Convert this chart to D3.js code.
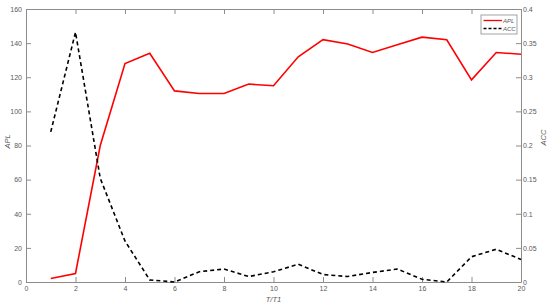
<!DOCTYPE html>
<html>
<head>
<meta charset="utf-8">
<script src="https://cdn.jsdelivr.net/npm/d3@7"></script>
<style>
  body { margin: 0; background: #fff; }
  text { font-family: "Liberation Sans", Arial, sans-serif; }
</style>
</head>
<body>
<div id="chart"></div>
<script>
// data
var tValues = [1, 2, 3, 4, 5, 6, 7, 8, 9, 10, 11, 12, 13, 14, 15, 16, 17, 18, 19, 20];
var aplValues = [2, 5, 80, 128, 134, 112, 110.5, 110.5, 116, 115, 132, 142, 139.5, 134.5, 139, 143.5, 142, 118.5, 134.5, 133.5];
var accValues = [0.22, 0.366, 0.152, 0.06, 0.003, 0.0, 0.015, 0.019, 0.008, 0.015, 0.026, 0.011, 0.008, 0.014, 0.019, 0.004, 0.0, 0.037, 0.048, 0.033];
var xTicks = [0, 2, 4, 6, 8, 10, 12, 14, 16, 18, 20];
var leftTicks = [0, 20, 40, 60, 80, 100, 120, 140, 160];
var rightTicks = [0, 0.05, 0.1, 0.15, 0.2, 0.25, 0.3, 0.35, 0.4];

var margin = { top: 9, right: 29, bottom: 25, left: 26 },
  width = 550 - margin.left - margin.right,
  height = 307 - margin.top - margin.bottom;

var svg = d3
  .select("#chart")
  .append("svg")
  .attr("width", 550)
  .attr("height", 307)
  .append("g")
  .attr("transform", "translate(" + margin.left + "," + margin.top + ")");

var x = d3.scaleLinear().domain([0, 20]).range([0, width]);
var yL = d3.scaleLinear().domain([0, 160]).range([height, 0]);
var yR = d3.scaleLinear().domain([0, 0.4]).range([height, 0]);

var axisColor = "#8c8c8c";
var textColor = "#5a5a5a";

function styleAxis(g) {
  g.select(".domain").attr("stroke", axisColor).attr("stroke-width", 1);
  g.selectAll(".tick line").attr("stroke", axisColor);
  g.selectAll(".tick text").attr("fill", textColor).style("font-size", "7px");
}

// bottom axis, ticks inside
svg
  .append("g")
  .attr("transform", "translate(0," + height + ")")
  .call(d3.axisBottom(x).tickValues(xTicks).tickSizeInner(-5).tickSizeOuter(0).tickPadding(4))
  .call(styleAxis);

// top axis, no labels
svg
  .append("g")
  .call(d3.axisTop(x).tickValues(xTicks).tickSizeInner(-5).tickSizeOuter(0).tickFormat(""))
  .call(styleAxis);

// left axis
svg
  .append("g")
  .call(d3.axisLeft(yL).tickValues(leftTicks).tickSizeInner(-5).tickSizeOuter(0).tickPadding(4))
  .call(styleAxis);

// right axis
svg
  .append("g")
  .attr("transform", "translate(" + width + ",0)")
  .call(d3.axisRight(yR).tickValues(rightTicks).tickSizeInner(-5).tickSizeOuter(0).tickPadding(2).tickFormat(d3.format("~g")))
  .call(styleAxis);

// axis titles
svg
  .append("text")
  .attr("transform", "translate(" + (-19) + "," + (height / 2 - 4) + ")rotate(-90)")
  .attr("text-anchor", "middle")
  .attr("dy", "0.35em")
  .style("font-size", "7.5px")
  .style("font-style", "italic")
  .attr("fill", textColor)
  .text("APL");

svg
  .append("text")
  .attr("transform", "translate(" + (width + 22) + "," + (height / 2 - 8) + ")rotate(-90)")
  .attr("text-anchor", "middle")
  .attr("dy", "0.35em")
  .style("font-size", "7.5px")
  .style("font-style", "italic")
  .attr("fill", textColor)
  .text("ACC");

svg
  .append("text")
  .attr("x", width / 2)
  .attr("y", height + 20)
  .attr("text-anchor", "middle")
  .style("font-size", "7.5px")
  .style("font-style", "italic")
  .attr("fill", textColor)
  .text("T/T1");

// lines
var aplLine = d3
  .line()
  .x(function (d, i) { return x(tValues[i]); })
  .y(function (d) { return yL(d); });

var accLine = d3
  .line()
  .x(function (d, i) { return x(tValues[i]); })
  .y(function (d) { return yR(d); });

svg
  .append("path")
  .datum(aplValues)
  .attr("fill", "none")
  .attr("stroke", "#ff0000")
  .attr("stroke-width", 1.6)
  .attr("d", aplLine);

svg
  .append("path")
  .datum(accValues)
  .attr("fill", "none")
  .attr("stroke", "#000")
  .attr("stroke-width", 1.6)
  .attr("stroke-dasharray", "4,3")
  .attr("d", accLine);

// legend
var legend = svg.append("g").attr("transform", "translate(" + (width - 40) + ",6)");
legend
  .append("rect")
  .attr("width", 36)
  .attr("height", 19)
  .attr("fill", "#fff")
  .attr("stroke", axisColor)
  .attr("stroke-width", 0.8);

var legendItems = [
  { name: "APL", color: "#ff0000", dash: null },
  { name: "ACC", color: "#000", dash: "3,2" }
];
legendItems.forEach(function (d, i) {
  var yy = 5.5 + i * 8;
  legend
    .append("line")
    .attr("x1", 2.5)
    .attr("x2", 21)
    .attr("y1", yy)
    .attr("y2", yy)
    .attr("stroke", d.color)
    .attr("stroke-width", 1.3)
    .attr("stroke-dasharray", d.dash);
  legend
    .append("text")
    .attr("x", 22)
    .attr("y", yy)
    .attr("dy", "0.35em")
    .style("font-size", "6px")
    .style("font-style", "italic")
    .attr("fill", textColor)
    .text(d.name);
});
</script>
</body>
</html>
